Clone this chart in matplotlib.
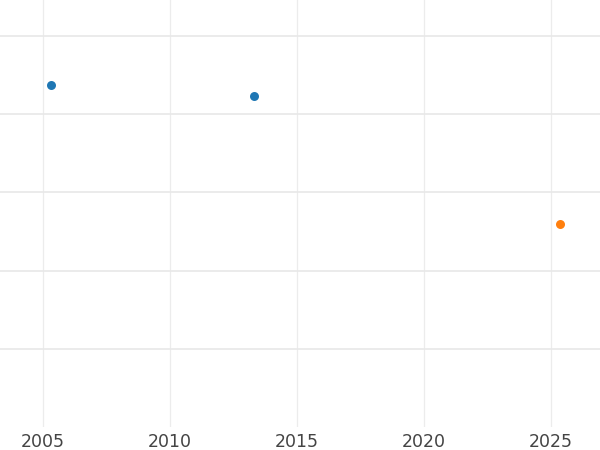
import matplotlib
matplotlib.use("Agg")
import matplotlib.pyplot as plt

# series values
blue_years = [2005.3, 2013.3]
blue_values = [43.7, 42.3]
orange_years = [2025.35]
orange_values = [26.0]
year_ticks = [2005, 2010, 2015, 2020, 2025]
value_grid = [10, 20, 30, 40, 50]

fig = plt.figure(figsize=(6, 4.5), dpi=100)
ax = fig.add_axes([0, 0.051, 1, 0.949])

ax.scatter(blue_years, blue_values, s=42, color="#1f77b4", zorder=3, linewidths=0)
ax.scatter(orange_years, orange_values, s=42, color="#ff7f0e", zorder=3, linewidths=0)

ax.set_xlim(2003.3, 2026.93)
ax.set_ylim(0, 54.6)
ax.set_xticks(year_ticks)
ax.set_yticks(value_grid)
ax.set_yticklabels([])
ax.grid(True, axis="y", color="#e8e8e8", linewidth=1.2)
ax.grid(True, axis="x", color="#ececec", linewidth=0.9)
ax.set_axisbelow(True)
ax.tick_params(axis="both", length=0)
ax.tick_params(axis="x", labelsize=12.5, labelcolor="#444444", pad=4)
for s in ax.spines.values():
    s.set_visible(False)

fig.savefig("out.png", dpi=100)
